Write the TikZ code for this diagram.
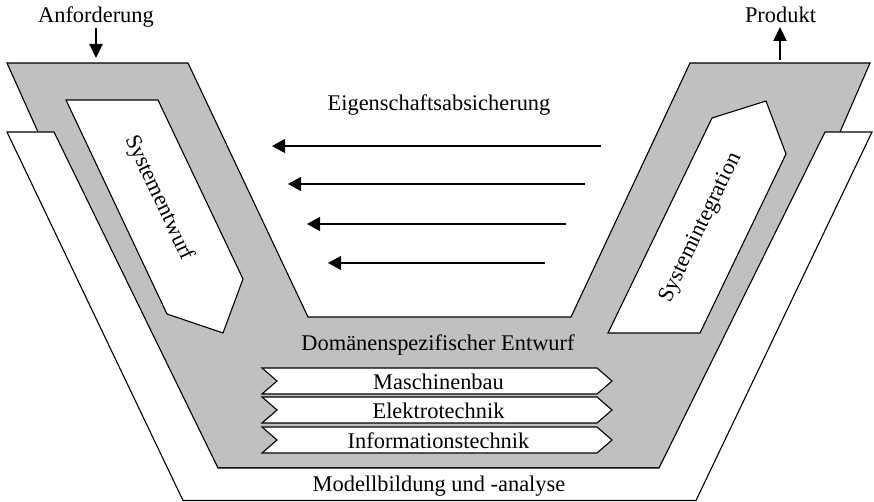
\documentclass[tikz,border=0pt]{standalone}
\usepackage{fontspec}
\setmainfont{Liberation Serif}
\usetikzlibrary{arrows.meta}
\definecolor{bandgray}{RGB}{192,192,192}
\begin{document}
\begin{tikzpicture}[x=1pt,y=-1pt,
  outline/.style={draw=black,line width=1.1pt,line join=miter},
  txt/.style={font=\fontsize{22.4}{26}\selectfont,inner sep=0pt},
  flow/.style={line width=1.2pt,-{Triangle[length=13pt,width=14pt]}},
  io/.style={line width=2.2pt,-{Triangle[length=14pt,width=13pt]}},
  chevron/.style={outline,fill=white}
]
\useasboundingbox (0,0) rectangle (874,502);

% grey V: system design / integration band
\path[outline,fill=bandgray]
  (7,63) -- (188,63) -- (308,317) -- (571,317) -- (690,63) -- (870,63)
  -- (840,132) -- (659,468) -- (218,468) -- (38,132) -- cycle;

% white V: modelling and analysis band
\path[outline,fill=white]
  (7,132) -- (54,132) -- (218,468) -- (659,468) -- (825,132) -- (872,132)
  -- (696,500.5) -- (183,500.5) -- cycle;

% phase arrows
\path[outline,fill=white]
  (66,100) -- (158,100) -- (243,279) -- (223,333) -- (167,314) -- cycle;
\path[outline,fill=white]
  (608,333) -- (700,333) -- (786,154) -- (766,101) -- (712,118) -- cycle;
\node[txt,rotate=-64.7] (entwurf) at (159,198) {Systementwurf};
\node[txt,rotate=64.2] (integration) at (701,228) {Systemintegration};

% domain chevrons
\foreach \t/\name/\lbl in {368/mb/Maschinenbau, 397/et/Elektrotechnik, 427/it/Informationstechnik}{
  \path[chevron] (262,\t) -- (597,\t) -- (612,\t+13) -- (597,\t+26)
    -- (262,\t+26) -- (277,\t+13) -- cycle;
  \node[txt,anchor=base] (\name) at (438.5,\t+21) {\lbl};
}

% labels
\node[txt,anchor=base] (anf) at (96,23) {Anforderung};
\node[txt,anchor=base] (prod) at (780.5,23) {Produkt};
\node[txt,anchor=base] (eig) at (439,111) {Eigenschaftsabsicherung};
\node[txt,anchor=base] (dom) at (438,350) {Domänenspezifischer Entwurf};
\node[txt,anchor=base] (mod) at (439,491) {Modellbildung und -analyse};

% input / output arrows
\coordinate (anfA) at (96,28);
\coordinate (anfB) at (96,58);
\coordinate (prodA) at (780,60);
\coordinate (prodB) at (780,27);
\draw[io] (anfA) -- (anfB);
\draw[io] (prodA) -- (prodB);

% property assurance arrows
\coordinate (a1s) at (601,146); \coordinate (a1e) at (272,146);
\coordinate (a2s) at (585,184); \coordinate (a2e) at (288,184);
\coordinate (a3s) at (566,224); \coordinate (a3e) at (307,224);
\coordinate (a4s) at (545,263); \coordinate (a4e) at (328,263);
\draw[flow] (a1s) -- (a1e);
\draw[flow] (a2s) -- (a2e);
\draw[flow] (a3s) -- (a3e);
\draw[flow] (a4s) -- (a4e);
\end{tikzpicture}
\end{document}
